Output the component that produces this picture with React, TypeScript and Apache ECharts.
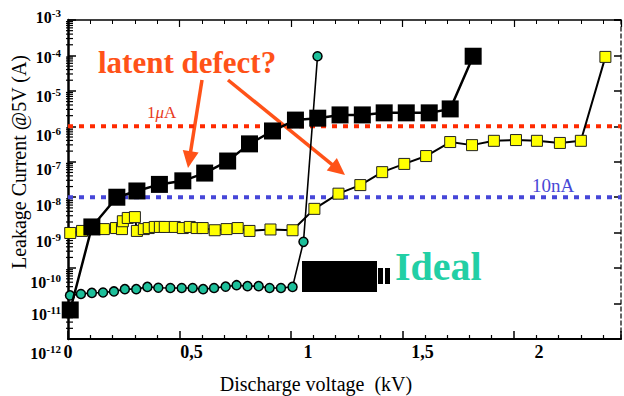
import React, { useEffect, useRef } from "react";
import * as echarts from "echarts";

// Discharge voltage (kV) and leakage current (A) for each device
const voltageBlack = [0.01, 0.107, 0.219, 0.309, 0.41, 0.515, 0.613, 0.716, 0.814, 0.917, 1.02, 1.12, 1.22, 1.32, 1.418, 1.517, 1.62, 1.714, 1.817];
const currentBlack = [6.6e-12, 1.45e-9, 1.0e-8, 1.5e-8, 2.3e-8, 2.9e-8, 4.8e-8, 1.05e-7, 3.2e-7, 7.4e-7, 1.5e-6, 1.7e-6, 2.1e-6, 2.1e-6, 2.4e-6, 2.4e-6, 2.4e-6, 3.1e-6, 9.5e-5];

const voltageYellow = [0.01, 0.063, 0.161, 0.215, 0.242, 0.246, 0.268, 0.3, 0.309, 0.34, 0.362, 0.389, 0.412, 0.434, 0.479, 0.515, 0.546, 0.577, 0.604, 0.658, 0.711, 0.761, 0.814, 0.908, 1.007, 1.105, 1.213, 1.311, 1.409, 1.508, 1.606, 1.714, 1.812, 1.91, 2.009, 2.103, 2.206, 2.3, 2.41];
const currentYellow = [9.8e-10, 1.12e-9, 1.26e-9, 1.35e-9, 1.26e-9, 2.1e-9, 2.6e-9, 2.75e-9, 1.12e-9, 1.26e-9, 1.35e-9, 1.45e-9, 1.45e-9, 1.45e-9, 1.45e-9, 1.35e-9, 1.45e-9, 1.35e-9, 1.35e-9, 1.17e-9, 1.26e-9, 1.35e-9, 1.12e-9, 1.23e-9, 1.17e-9, 4.7e-9, 1.26e-8, 2.2e-8, 5.1e-8, 8.7e-8, 1.45e-7, 3.6e-7, 2.95e-7, 3.9e-7, 4.1e-7, 3.9e-7, 3.4e-7, 3.9e-7, 9.1e-5];

const voltageGreen = [0.009, 0.058, 0.107, 0.157, 0.206, 0.255, 0.306, 0.356, 0.405, 0.459, 0.51, 0.559, 0.606, 0.655, 0.707, 0.756, 0.805, 0.855, 0.904, 0.955, 1.007, 1.056, 1.119];
const currentGreen = [1.7e-11, 1.86e-11, 2.0e-11, 2.05e-11, 2.2e-11, 2.55e-11, 2.55e-11, 2.95e-11, 2.8e-11, 2.75e-11, 2.75e-11, 2.75e-11, 2.55e-11, 2.75e-11, 3.0e-11, 3.3e-11, 3.1e-11, 3.1e-11, 2.75e-11, 2.75e-11, 2.95e-11, 5.5e-10, 9.5e-5];

// Threshold reference lines
const thresholdValues = [1e-6, 1e-8];
const thresholdLabels = ["1μA", "10nA"];
const thresholdColors = ["#ff2a00", "#4646d8"];

// Axis ranges / ticks
const xMin = 0;
const xMax = 2.48;
const xMajor = 0.5;
const yMin = 1e-12;
const yMax = 1e-3;
const xTickLabels: Record<string, string> = { "0": "0", "0.5": "0,5", "1": "1", "1.5": "1,5", "2": "2" };

const FONT = "Liberation Serif";

// label nudges (pixels) so labels sit where the scanned figure shows them
const yLabelShift: Record<string, number> = { "3": -3, "4": 2, "5": 6, "6": 9, "7": 8, "8": 8, "9": 9, "10": 14, "11": 11, "12": 14 };
const xLabelShift: Record<string, number> = { "0": 0, "0.5": 12, "1": 17, "1.5": 20, "2": 25 };

function buildYRich() {
  const rich: any = {};
  const h = 12; // box height of the "10" part
  const r = 3; // raise of the exponent
  Object.keys(yLabelShift).forEach((k) => {
    const e = yLabelShift[k] - 1.5;
    const top = e > 0 ? 2 * e : 0;
    const bottom = e < 0 ? -2 * e : 0;
    const H = h + r + top + bottom;
    rich["b" + k] = { fontFamily: FONT, fontSize: 16, fontWeight: "bold", color: "#000", height: h, lineHeight: H, verticalAlign: "bottom", padding: [top + r, 0, bottom, 0] };
    rich["e" + k] = { fontFamily: FONT, fontSize: 11, fontWeight: "bold", color: "#000", height: 9, lineHeight: H, verticalAlign: "top", padding: [top, 0, 0, 0] };
  });
  return rich;
}

function buildXRich() {
  const rich: any = {};
  Object.keys(xLabelShift).forEach((k, i) => {
    rich["x" + i] = { fontFamily: FONT, fontSize: 18, fontWeight: "bold", color: "#000", padding: [0, 0, 0, 2 * xLabelShift[k]] };
  });
  return rich;
}

function yLabel(v: number) {
  const e = Math.round(Math.log10(v));
  const k = String(-e);
  return `{b${k}|10}{e${k}|${e}}`;
}

function arrow(x1: number, y1: number, x2: number, y2: number, color: string) {
  const dx = x2 - x1, dy = y2 - y1;
  const L = Math.hypot(dx, dy);
  const ux = dx / L, uy = dy / L;
  const hl = 17, hw = 8;
  const bx = x2 - ux * hl, by = y2 - uy * hl;
  return [
    { type: "line", shape: { x1, y1, x2: bx + ux * 2, y2: by + uy * 2 }, style: { stroke: color, lineWidth: 3.5 } },
    { type: "polygon", shape: { points: [[x2, y2], [bx - uy * hw, by + ux * hw], [bx + uy * hw, by - ux * hw]] }, style: { fill: color } },
  ];
}

export default function App() {
  const ref = useRef<HTMLDivElement>(null);
  useEffect(() => {
    if (!ref.current) return;
    const chart = echarts.init(ref.current, null, { renderer: "svg" });

    const minorY: number[][] = [];
    for (let n = -12; n < -3; n++) {
      for (let k = 2; k <= 9; k++) minorY.push([0, k * Math.pow(10, n)]);
    }
    const xKeys = Object.keys(xLabelShift);
    const yRich = buildYRich();

    const orange = "#ff5218";
    const thresholdSeries = thresholdValues.map((v, i) => ({
      type: "line",
      name: thresholdLabels[i],
      z: 2,
      silent: true,
      symbol: "none",
      data: [[xMin, v], [xMax, v]],
      lineStyle: { color: thresholdColors[i], width: 4, type: [5, 6], cap: "butt" },
    }));

    const option: any = {
      animation: false,
      grid: { left: 68, top: 20, width: 554, height: 319, containLabel: false },
      xAxis: [
        {
          type: "value", min: xMin, max: xMax, interval: xMajor, position: "bottom",
          axisLine: { show: true, onZero: false, lineStyle: { color: "#000", width: 2 } },
          axisTick: { show: true, inside: true, length: 8, lineStyle: { color: "#000", width: 1.5 } },
          minorTick: { show: true, splitNumber: 5, length: 4, lineStyle: { color: "#000", width: 1.2 } },
          splitLine: { show: false },
          axisLabel: {
            margin: 4,
            showMinLabel: true,
            formatter: (v: number) => {
              const key = String(Math.round(v * 10) / 10);
              const i = xKeys.indexOf(key);
              if (i < 0 || Math.abs(v * 2 - Math.round(v * 2)) > 1e-6) return "";
              return `{x${i}|${xTickLabels[key]}}`;
            },
            rich: buildXRich(),
          },
        },
        {
          type: "value", min: xMin, max: xMax, interval: xMajor, position: "top",
          axisLine: { show: true, onZero: false, lineStyle: { color: "#000", width: 1.5 } },
          axisTick: { show: true, inside: true, length: 7, lineStyle: { color: "#000", width: 1.2 } },
          minorTick: { show: true, splitNumber: 5, length: 4, lineStyle: { color: "#000", width: 1 } },
          splitLine: { show: false },
          axisLabel: { show: false },
        },
      ],
      yAxis: [
        {
          type: "log", logBase: 10, min: yMin, max: yMax, splitNumber: 9, position: "left",
          axisLine: { show: true, onZero: false, lineStyle: { color: "#000", width: 2.5 } },
          axisTick: { show: true, inside: true, length: 8, lineStyle: { color: "#000", width: 1.5 } },
          splitLine: { show: false },
          axisLabel: {
            margin: 7,
            showMinLabel: false,
            showMaxLabel: true,
            formatter: yLabel,
            rich: yRich,
          },
        },
        {
          type: "log", logBase: 10, min: yMin, max: yMax, splitNumber: 9, position: "right",
          axisLine: { show: true, onZero: false, lineStyle: { color: "#333", width: 1.5, type: [4, 3] } },
          axisTick: { show: true, inside: true, length: 7, lineStyle: { color: "#000", width: 1.5 } },
          splitLine: { show: false },
          axisLabel: { show: false },
        },
        {
          // carries only the bottom (10^-12) label
          type: "log", logBase: 10, min: yMin, max: yMax, splitNumber: 9, position: "left", offset: 0,
          axisLine: { show: false },
          axisTick: { show: false },
          splitLine: { show: false },
          axisLabel: {
            margin: 7,
            showMinLabel: true,
            formatter: (v: number) => (Math.round(Math.log10(v)) === -12 ? yLabel(v) : ""),
            rich: yRich,
          },
        },
      ],
      series: [
        {
          type: "custom",
          silent: true,
          xAxisIndex: 0,
          yAxisIndex: 0,
          z: 1,
          data: minorY,
          renderItem: (params: any, api: any) => {
            const p = api.coord([api.value(0), api.value(1)]);
            return { type: "line", shape: { x1: p[0] - 2, y1: p[1], x2: p[0] + 5, y2: p[1] }, style: { stroke: "#000", lineWidth: 1.2 } };
          },
        },
        ...thresholdSeries,
        {
          type: "line",
          name: "ideal",
          z: 3,
          data: voltageGreen.map((x, i) => [x, currentGreen[i]]),
          symbol: "circle",
          symbolSize: 9,
          lineStyle: { color: "#000", width: 1.6 },
          itemStyle: { color: "#1dbf9a", borderColor: "#000", borderWidth: 1.5 },
        },
        {
          type: "line",
          name: "device B",
          z: 4,
          data: voltageYellow.map((x, i) => [x, currentYellow[i]]),
          symbol: "rect",
          symbolSize: 11,
          lineStyle: { color: "#000", width: 2 },
          itemStyle: { color: "#ffff00", borderColor: "#222", borderWidth: 1 },
        },
        {
          type: "line",
          name: "device A",
          z: 5,
          data: voltageBlack.map((x, i) => [x, currentBlack[i]]),
          symbol: "rect",
          symbolSize: 17,
          lineStyle: { color: "#000", width: 2.5 },
          itemStyle: { color: "#000" },
        },
      ],
      graphic: [
        {
          type: "text", x: 19, y: 162, rotation: Math.PI / 2,
          style: { text: "Leakage Current @5V (A)", font: `20px "${FONT}"`, fill: "#000", align: "center", verticalAlign: "middle" },
        },
        {
          type: "text", x: 316, y: 384,
          style: { text: "Discharge voltage  (kV)", font: `20px "${FONT}"`, fill: "#000", align: "center", verticalAlign: "middle" },
        },
        {
          type: "text", x: 98, y: 62,
          style: { text: "latent defect?", font: `bold 31px "${FONT}"`, fill: orange, align: "left", verticalAlign: "middle" },
        },
        ...arrow(202, 80, 188, 168, orange),
        ...arrow(228, 80, 345, 175, orange),
        {
          type: "text", x: 147, y: 112,
          style: {
            text: `{n|1}{i|μ}{n|A}`, align: "left", verticalAlign: "middle",
            rich: {
              n: { fontFamily: FONT, fontSize: 17, fill: "#e83a1c" },
              i: { fontFamily: FONT, fontSize: 17, fontStyle: "italic", fill: "#e83a1c" },
            },
          },
        },
        {
          type: "text", x: 532, y: 185,
          style: { text: thresholdLabels[1], font: `19px "${FONT}"`, fill: "#4848d6", align: "left", verticalAlign: "middle" },
        },
        { type: "rect", shape: { x: 302, y: 261, width: 75, height: 31 }, style: { fill: "#000" } },
        { type: "rect", shape: { x: 378, y: 268, width: 5, height: 16 }, style: { fill: "#000" } },
        { type: "rect", shape: { x: 385, y: 268, width: 5, height: 16 }, style: { fill: "#000" } },
        {
          type: "text", x: 395, y: 266,
          style: { text: "Ideal", font: `bold 40px "${FONT}"`, fill: "#22cfa5", align: "left", verticalAlign: "middle" },
        },
      ],
    };
    chart.setOption(option);
    return () => chart.dispose();
  }, []);
  return <div ref={ref} style={{ position: "absolute", left: 0, top: 0, width: 624, height: 396, background: "#fff" }} />;
}
